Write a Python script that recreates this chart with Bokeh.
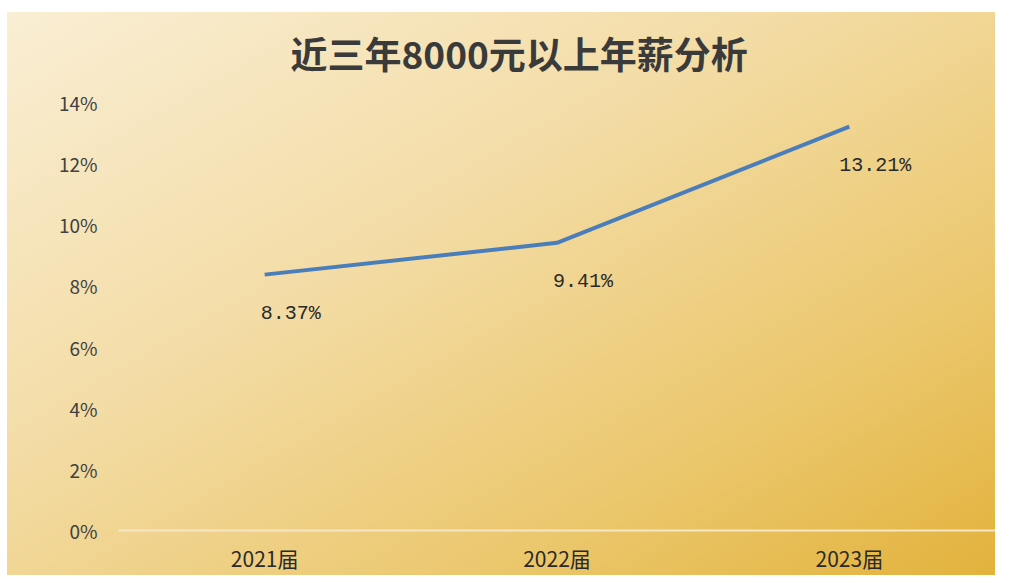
from bokeh.plotting import figure
from bokeh.models import FactorRange, Range1d, FixedTicker, NumeralTickFormatter, ColumnDataSource, LabelSet, Title
from bokeh.core.properties import value
from bokeh.embed import file_html
from bokeh.resources import INLINE

categories = ["2021届", "2022届", "2023届"]
values = [0.0837, 0.0941, 0.1321]
y_ticks = [0.0, 0.02, 0.04, 0.06, 0.08, 0.10, 0.12, 0.14]
title_text = "近三年8000元以上年薪分析"

labels = [f"{v * 100:.2f}%" for v in values]
source = ColumnDataSource(dict(cat=categories, val=values, label=labels))

p = figure(width=995, height=575, x_range=FactorRange(*categories), y_range=Range1d(0, 0.14),
           output_backend="svg", toolbar_location=None,
           min_border_left=118, min_border_right=0, min_border_top=101, min_border_bottom=40)
p.styles = {"background": (
    "linear-gradient(#ffffff, #ffffff) top left / 100% 12px no-repeat, "
    "linear-gradient(#ffffff, #ffffff) top left / 7px 100% no-repeat, "
    "linear-gradient(150deg, #faefd6 0%, #f3dca6 40%, #ebc76c 75%, #e2b23c 100%)")}
p.border_fill_color = None
p.background_fill_color = None
p.outline_line_color = None
p.xgrid.grid_line_color = None
p.ygrid.grid_line_color = None

t = Title(text=title_text, align="left", offset=172, text_font="Noto Sans CJK SC",
          text_font_size="37px", text_font_style="bold", text_color="#3a3a3a", standoff=46)
p.add_layout(t, "above")

p.line(x="cat", y="val", source=source, line_color="#4a7ebb", line_width=4)

ls = LabelSet(x="cat", y="val", text="label", source=source, text_align="center",
              text_baseline="middle", x_offset=26, y_offset=-39,
              text_font=value("Liberation Mono"), text_font_size=value("20px"), text_color="#2a2a2a")
p.add_layout(ls)

p.yaxis.ticker = FixedTicker(ticks=y_ticks)
p.yaxis.formatter = NumeralTickFormatter(format="0%")
p.yaxis.axis_line_color = None
p.yaxis.major_tick_line_color = None
p.yaxis.minor_tick_line_color = None
p.yaxis.major_label_standoff = 15
p.yaxis.major_label_text_font = "Noto Sans CJK SC"
p.yaxis.major_label_text_font_size = "19px"
p.yaxis.major_label_text_color = "#404040"

p.xaxis.axis_line_color = "#f6e6c3"
p.xaxis.axis_line_width = 2
p.xaxis.major_tick_line_color = None
p.xaxis.minor_tick_line_color = None
p.xaxis.major_label_standoff = 6
p.xaxis.major_label_text_font = "Noto Sans CJK SC"
p.xaxis.major_label_text_font_size = "21px"
p.xaxis.major_label_text_color = "#2a2a2a"

open("out.html", "w").write(file_html(p, INLINE))
